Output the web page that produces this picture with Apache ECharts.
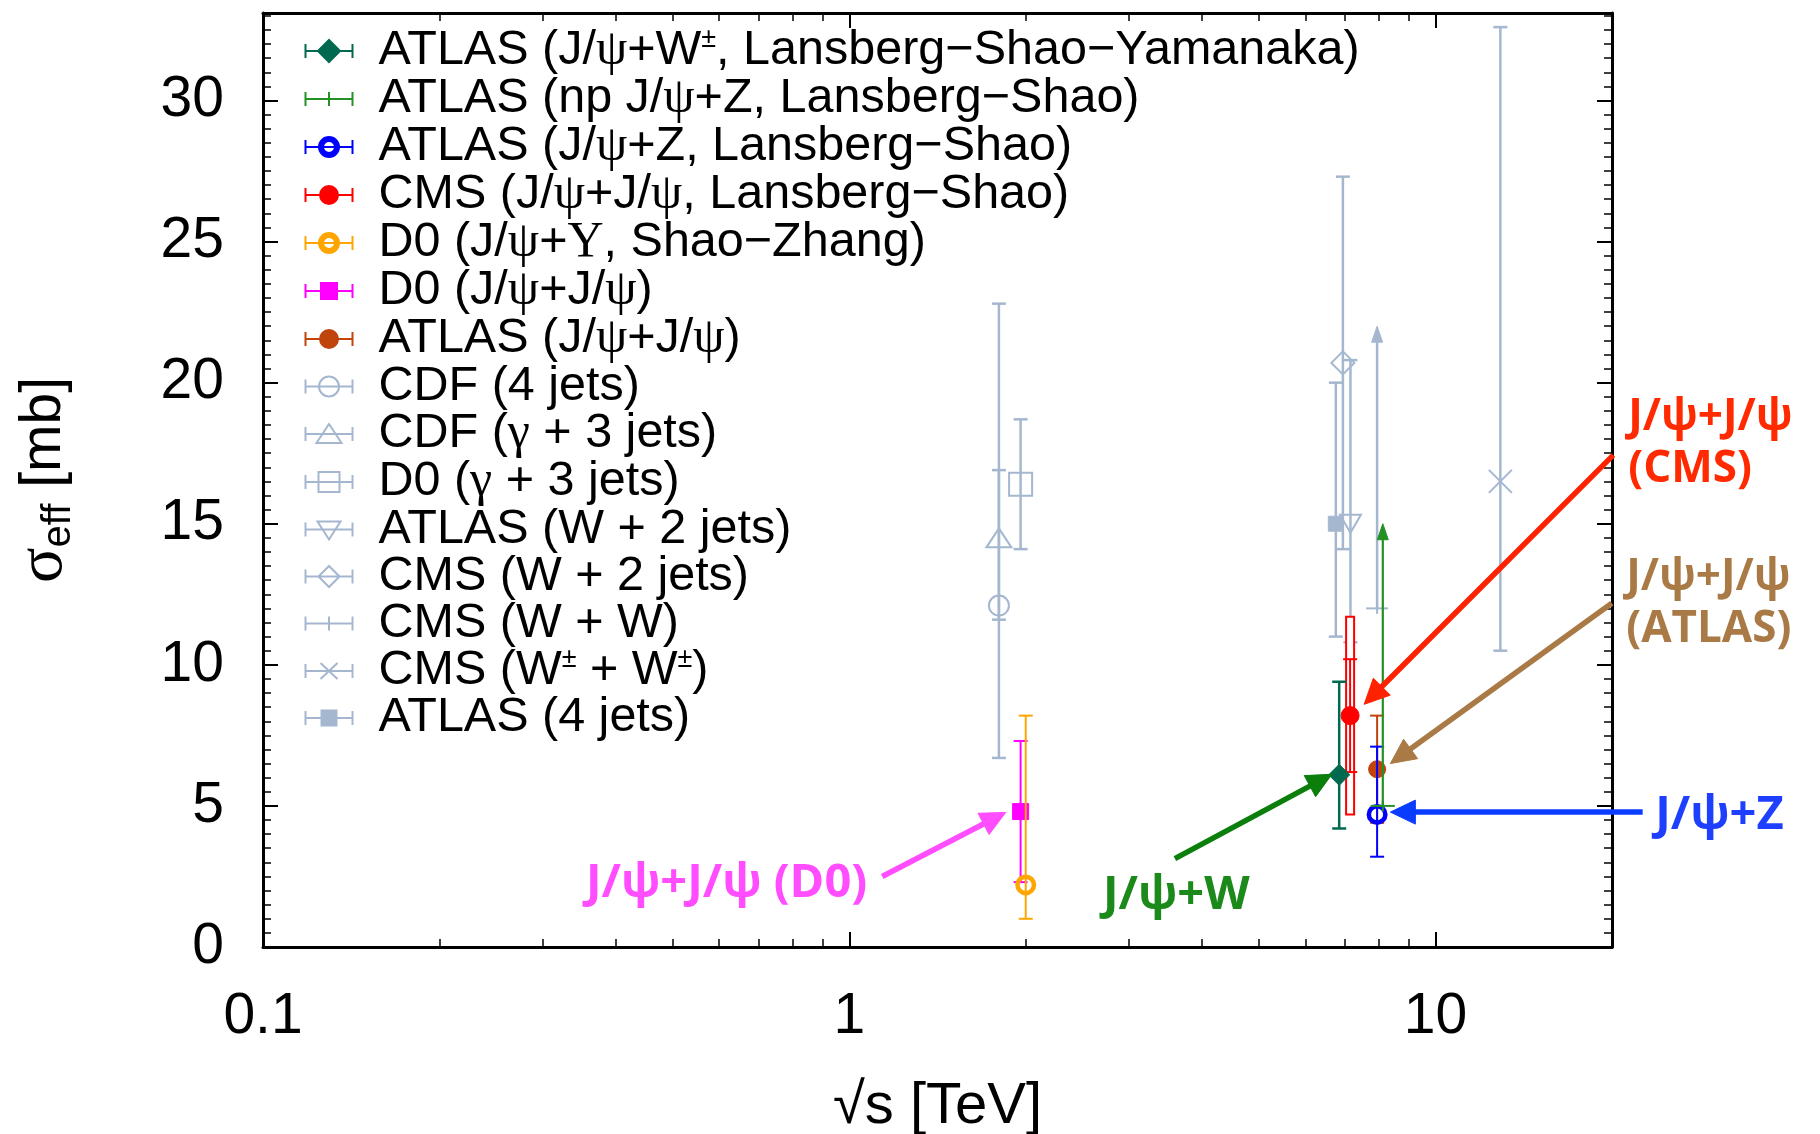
<!DOCTYPE html>
<html>
<head>
<meta charset="utf-8">
<title>σeff versus √s</title>
<script src="https://cdn.jsdelivr.net/npm/echarts@6/dist/echarts.min.js"></script>
<style>
  html, body { margin: 0; padding: 0; background: #ffffff; }
  #chart { width: 1820px; height: 1134px; }
</style>
</head>
<body>
<div id="chart"></div>
<script>
// ---- measurements: sigma_eff [mb] versus collision energy sqrt(s) [TeV] ----
const seriesNames = [
  'ATLAS (J/ψ+W±, Lansberg−Shao−Yamanaka)',
  'ATLAS (np J/ψ+Z, Lansberg−Shao)',
  'ATLAS (J/ψ+Z, Lansberg−Shao)',
  'CMS (J/ψ+J/ψ, Lansberg−Shao)',
  'D0 (J/ψ+Υ, Shao−Zhang)',
  'D0 (J/ψ+J/ψ)',
  'ATLAS (J/ψ+J/ψ)',
  'CDF (4 jets)',
  'CDF (γ + 3 jets)',
  'D0 (γ + 3 jets)',
  'ATLAS (W + 2 jets)',
  'CMS (W + 2 jets)',
  'CMS (W + W)',
  'CMS (W± + W±)',
  'ATLAS (4 jets)'
];
// sqrt(s) in TeV (points at a common energy are spread slightly apart)
const sqrtS     = [6.85, 8.13, 7.95, 7.15, 2.0, 1.96, 7.95, 1.8, 1.8, 1.96, 7.16, 6.95, 7.95, 12.9, 6.76];
const sigmaEff  = [6.1, 5.0, 4.7, 8.2, 2.2, 4.8, 6.3, 12.1, 14.5, 16.4, 15.0, 20.7, 12.0, 16.5, 15.0];
const errLow    = [4.2, null, 3.2, 6.2, 1.0, 2.3, 4.4, 6.7, 11.6, 14.1, 10.8, 14.1, null, 10.5, 11.0];
const errHigh   = [9.4, null, 7.1, 10.2, 8.2, 7.3, 8.2, 22.8, 16.9, 18.7, 20.8, 27.3, null, 32.6, 20.0];
// total (stat+syst) band, drawn as an open box
const bandLow   = [null, null, null, 4.7, null, null, null, null, null, null, null, null, null, null, null];
const bandHigh  = [null, null, null, 11.7, null, null, null, null, null, null, null, null, null, null, null];
// lower limits: arrow drawn from the value up to this level
const limitArrowTop = [null, 15.0, null, null, null, null, null, null, null, null, null, null, 22.0, null, null];

// axis ticks and labels
const xRange = [0.1, 20];
const yRange = [0, 33.1];
const xMajorTicks = [0.1, 1, 10];
const xMinorTicks = [0.2, 0.3, 0.4, 0.5, 0.6, 0.7, 0.8, 0.9, 2, 3, 4, 5, 6, 7, 8, 9];
const yMajorTicks = [0, 5, 10, 15, 20, 25, 30];
const yMinorTicks = [0.5, 1, 1.5, 2, 2.5, 3, 3.5, 4, 4.5,
  5.5, 6, 6.5, 7, 7.5, 8, 8.5, 9, 9.5,
  10.5, 11, 11.5, 12, 12.5, 13, 13.5, 14, 14.5,
  15.5, 16, 16.5, 17, 17.5, 18, 18.5, 19, 19.5,
  20.5, 21, 21.5, 22, 22.5, 23, 23.5, 24, 24.5,
  25.5, 26, 26.5, 27, 27.5, 28, 28.5, 29, 29.5,
  30.5, 31, 31.5, 32, 32.5, 33];

// callout labels with arrows pointing at the quarkonium points
const noteTexts = ['J/ψ+J/ψ (D0)', 'J/ψ+W', 'J/ψ+Z', 'J/ψ+J/ψ\n(ATLAS)', 'J/ψ+J/ψ\n(CMS)'];
const noteAt    = [[1.073, 2.25], [3.613, 1.81], [23.7, 4.65], [21.15, 12.16], [21.32, 17.84]];
const noteFrom  = [[1.138, 2.50], [3.593, 3.13], [22.56, 4.78], [19.98, 12.18], [20.10, 17.43]];
const noteTo    = [[1.849, 4.77], [6.658, 6.12], [8.375, 4.78], [8.375, 6.50], [7.556, 8.60]];

// ---- styling ----
const GRAY = '#a5b7cf';
const seriesColors = ['#00694f', '#249124', '#0000ff', '#ff0000', '#ffa500', '#ff00ff', '#c0440c',
  GRAY, GRAY, GRAY, GRAY, GRAY, GRAY, GRAY, GRAY];
const markerKinds = ['diamond', 'plus', 'ring', 'circle', 'ring', 'square', 'circle',
  'openCircle', 'openTriangle', 'openSquare', 'openTriangleDown', 'openDiamond', 'plus', 'cross', 'square'];
const markerSizes = [[21, 21], [24, 22], [21, 21], [18, 18], [21, 21], [16, 16], [17, 17],
  [22, 22], [25, 19], [23, 23], [21, 18], [23, 23], [22, 22], [23, 23], [15, 15]];
const barWidths = [2.5, 2.2, 2, 2, 2, 2, 2, 2.5, 2.5, 2.5, 2.5, 2.5, 2.5, 2.5, 2.5];
const noteColors = ['#ff4dff', '#1b8a1b', '#1f3fff', '#a97a45', '#ff2a00'];
const noteArrowColors = ['#ff4dff', '#0b7e0b', '#0a3cff', '#a97a45', '#ff2200'];
const noteAlign = ['right', 'center', 'left', 'left', 'left'];
const noteFontSize = [47, 47, 47, 44, 44];

const CAP = 7;

function markerShape(kind, cx, cy, size, color, lw) {
  const w = size[0] / 2, h = size[1] / 2;
  const solid = { fill: color, stroke: color, lineWidth: 1 };
  const open = { fill: 'none', stroke: color, lineWidth: lw };
  switch (kind) {
    case 'diamond':
      return { type: 'polygon', shape: { points: [[cx, cy - h], [cx + w, cy], [cx, cy + h], [cx - w, cy]] }, style: solid };
    case 'openDiamond':
      return { type: 'polygon', shape: { points: [[cx, cy - h], [cx + w, cy], [cx, cy + h], [cx - w, cy]] }, style: open };
    case 'circle':
      return { type: 'circle', shape: { cx: cx, cy: cy, r: w }, style: solid };
    case 'ring':
      return { type: 'circle', shape: { cx: cx, cy: cy, r: w - 2.25 }, style: { fill: 'none', stroke: color, lineWidth: 4.5 } };
    case 'openCircle':
      return { type: 'circle', shape: { cx: cx, cy: cy, r: w - lw / 2 }, style: open };
    case 'square':
      return { type: 'rect', shape: { x: cx - w, y: cy - h, width: 2 * w, height: 2 * h }, style: solid };
    case 'openSquare':
      return { type: 'rect', shape: { x: cx - w, y: cy - h, width: 2 * w, height: 2 * h }, style: open };
    case 'openTriangle':
      return { type: 'polygon', shape: { points: [[cx, cy - h], [cx + w, cy + h], [cx - w, cy + h]] }, style: open };
    case 'openTriangleDown':
      return { type: 'polygon', shape: { points: [[cx - w, cy - h], [cx + w, cy - h], [cx, cy + h]] }, style: open };
    case 'cross':
      return { type: 'group', children: [
        { type: 'line', shape: { x1: cx - w, y1: cy - h, x2: cx + w, y2: cy + h }, style: open },
        { type: 'line', shape: { x1: cx + w, y1: cy - h, x2: cx - w, y2: cy + h }, style: open }
      ] };
    case 'plus':
      return { type: 'group', children: [
        { type: 'line', shape: { x1: cx - w, y1: cy, x2: cx + w, y2: cy }, style: open },
        { type: 'line', shape: { x1: cx, y1: cy - h / 2, x2: cx, y2: cy + h / 2 }, style: open }
      ] };
  }
  return null;
}

function arrowShapes(p0, p1, color, lw, headLen, headW) {
  const dx = p1[0] - p0[0], dy = p1[1] - p0[1];
  const len = Math.hypot(dx, dy);
  const ux = dx / len, uy = dy / len;
  const bx = p1[0] - ux * headLen, by = p1[1] - uy * headLen;
  const nx = -uy, ny = ux;
  return [
    { type: 'line', shape: { x1: p0[0], y1: p0[1], x2: bx + ux * 2, y2: by + uy * 2 }, style: { stroke: color, lineWidth: lw } },
    { type: 'polygon', shape: { points: [[p1[0], p1[1]], [bx + nx * headW / 2, by + ny * headW / 2], [bx - nx * headW / 2, by - ny * headW / 2]] },
      style: { fill: color, stroke: color, lineWidth: 1 } }
  ];
}

function measurementRenderer(i) {
  return function (params, api) {
    const x = api.value(0), y = api.value(1);
    const p = api.coord([x, y]);
    const color = seriesColors[i];
    const lw = barWidths[i];
    const line = { stroke: color, lineWidth: lw };
    const children = [];
    if (bandLow[i] != null) {
      const bl = api.coord([x, bandLow[i]]), bh = api.coord([x, bandHigh[i]]);
      children.push({ type: 'rect', shape: { x: p[0] - 4, y: bh[1], width: 8, height: bl[1] - bh[1] },
        style: { fill: '#ffffff', stroke: color, lineWidth: 2 } });
    }
    if (errLow[i] != null) {
      const lo = api.coord([x, errLow[i]]), hi = api.coord([x, errHigh[i]]);
      children.push({ type: 'line', shape: { x1: p[0], y1: lo[1], x2: p[0], y2: hi[1] }, style: line });
      children.push({ type: 'line', shape: { x1: p[0] - CAP, y1: lo[1], x2: p[0] + CAP, y2: lo[1] }, style: line });
      children.push({ type: 'line', shape: { x1: p[0] - CAP, y1: hi[1], x2: p[0] + CAP, y2: hi[1] }, style: line });
    }
    if (limitArrowTop[i] != null) {
      const top = api.coord([x, limitArrowTop[i]]);
      children.push.apply(children, arrowShapes(p, top, color, lw, 16, 11));
    }
    children.push(markerShape(markerKinds[i], p[0], p[1], markerSizes[i], color, 2));
    return { type: 'group', children: children };
  };
}

function noteRenderer(params, api) {
  const k = params.dataIndex;
  const from = api.coord(noteFrom[k]);
  const to = api.coord(noteTo[k]);
  const at = api.coord(noteAt[k]);
  const children = arrowShapes(from, to, noteArrowColors[k], 5.5, 25, 24);
  children.push({
    type: 'text',
    x: at[0], y: at[1],
    style: {
      text: noteTexts[k],
      fill: noteColors[k],
      fontFamily: 'Open Sans',
      fontWeight: 'bold',
      fontSize: noteFontSize[k],
      lineHeight: 52,
      align: noteAlign[k],
      verticalAlign: 'middle'
    }
  });
  return { type: 'group', children: children };
}

// legend icon: error bar with caps, marker in the middle, padded to 68 px
const legendMarkerPaths = {
  diamond: 'M23.5 0L34.5 11L23.5 22L12.5 11Z',
  plus: 'M23.5 4L23.5 18',
  ring: 'M33.5 11A10 10 0 1 1 13.5 11A10 10 0 1 1 33.5 11ZM29.5 11A6 6 0 1 0 17.5 11A6 6 0 1 0 29.5 11Z',
  circle: 'M32.5 11A9 9 0 1 1 14.5 11A9 9 0 1 1 32.5 11Z',
  square: 'M15.5 3L31.5 3L31.5 19L15.5 19Z',
  openCircle: 'M33.5 11A10 10 0 1 1 13.5 11A10 10 0 1 1 33.5 11Z',
  openTriangle: 'M23.5 1L36 20L11 20Z',
  openSquare: 'M13 1L34 1L34 21L13 21Z',
  openTriangleDown: 'M12 3L35 3L23.5 21Z',
  openDiamond: 'M23.5 0.5L34 11L23.5 21.5L13 11Z',
  cross: 'M15 3L32 19M32 3L15 19'
};
const smallSquare = 'M16 3.5L31 3.5L31 18.5L16 18.5Z';
function legendIcon(i) {
  const base = 'M0 0M68 22M0 4L0 18M47 4L47 18M0 11L47 11';
  const kind = markerKinds[i];
  const m = (kind === 'square' && seriesColors[i] === GRAY) ? smallSquare : legendMarkerPaths[kind];
  return 'path://' + base + m;
}
function legendStyle(i) {
  const c = seriesColors[i];
  const kind = markerKinds[i];
  const filled = kind === 'diamond' || kind === 'circle' || kind === 'square' || kind === 'ring';
  return { color: filled ? c : 'none', borderColor: c, borderWidth: 2 };
}
function richName(name) {
  return name.replace(/([ψγΥ])/g, '{g|$1}').replace(/±/g, '{sup|±}');
}

const FONT = 'Liberation Sans';

function xAxisDef(position, ticks, len, width, withLine, withLabels, withName) {
  const axis = {
    type: 'log', logBase: 10, min: xRange[0], max: xRange[1], position: position, gridIndex: 0,
    axisLine: { show: withLine, onZero: false, lineStyle: { color: '#000', width: 3 } },
    axisTick: { show: true, inside: true, length: len, customValues: ticks, lineStyle: { color: '#000', width: width } },
    axisLabel: withLabels ? {
      show: true, customValues: xMajorTicks, margin: 42, color: '#000', fontFamily: FONT, fontSize: 57,
      showMinLabel: true, showMaxLabel: true,
      formatter: function (v) { return v < 1 ? v.toFixed(1) : String(Math.round(v)); }
    } : { show: false },
    splitLine: { show: false }, minorTick: { show: false }, minorSplitLine: { show: false }
  };
  if (withName) {
    axis.name = '√s [TeV]';
    axis.nameLocation = 'middle';
    axis.nameGap = 131;
    axis.nameMoveOverlap = false;
    axis.nameTextStyle = { color: '#000', fontFamily: FONT, fontSize: 58 };
  }
  return axis;
}
function yAxisDef(position, ticks, len, width, withLine, withLabels, withName) {
  const axis = {
    type: 'value', min: yRange[0], max: yRange[1], position: position, gridIndex: 0,
    axisLine: { show: withLine, onZero: false, lineStyle: { color: '#000', width: 3 } },
    axisTick: { show: true, inside: true, length: len, customValues: ticks, lineStyle: { color: '#000', width: width } },
    axisLabel: withLabels ? {
      show: true, customValues: yMajorTicks, margin: 39, color: '#000', fontFamily: FONT, fontSize: 57
    } : { show: false },
    splitLine: { show: false }, minorTick: { show: false }, minorSplitLine: { show: false }
  };
  if (withName) {
    axis.name = '{s|σ}{sub|eff} [mb]';
    axis.nameLocation = 'middle';
    axis.nameGap = 184;
    axis.nameMoveOverlap = false;
    axis.nameTextStyle = {
      color: '#000', fontFamily: FONT, fontSize: 57, lineHeight: 70,
      rich: {
        s: { fontFamily: 'Liberation Serif', fontSize: 66, lineHeight: 70 },
        sub: { fontFamily: FONT, fontSize: 40, lineHeight: 44, verticalAlign: 'bottom' }
      }
    };
  }
  return axis;
}

const series = [];
// reference processes first, quarkonium results drawn on top
const drawOrder = [7, 8, 9, 10, 11, 12, 13, 14, 6, 5, 4, 3, 2, 1, 0];
drawOrder.forEach(function (i) {
  series.push({
    name: seriesNames[i],
    type: 'custom',
    coordinateSystem: 'cartesian2d',
    xAxisIndex: 0, yAxisIndex: 0,
    silent: true,
    itemStyle: { color: seriesColors[i] },
    encode: { x: 0, y: 1 },
    data: [[sqrtS[i], sigmaEff[i]]],
    renderItem: measurementRenderer(i)
  });
});
series.push({
  type: 'custom',
  coordinateSystem: 'cartesian2d',
  xAxisIndex: 0, yAxisIndex: 0,
  silent: true,
  clip: false,
  z: 5,
  encode: { x: 0, y: 1 },
  data: noteAt.map(function (p) { return [p[0], p[1]]; }),
  renderItem: noteRenderer
});

const chart = echarts.init(document.getElementById('chart'), null, { renderer: 'canvas' });
chart.setOption({
  animation: false,
  backgroundColor: '#ffffff',
  textStyle: { fontFamily: FONT },
  grid: { left: 263, top: 13, width: 1349, height: 934, containLabel: false, outerBoundsMode: 'none' },
  xAxis: [
    xAxisDef('bottom', xMajorTicks, 15, 2, true, true, true),
    xAxisDef('bottom', xMinorTicks, 8, 1.5, false, false, false),
    xAxisDef('top', xMajorTicks, 15, 2, true, false, false),
    xAxisDef('top', xMinorTicks, 8, 1.5, false, false, false)
  ],
  yAxis: [
    yAxisDef('left', yMajorTicks, 15, 2, true, true, true),
    yAxisDef('left', yMinorTicks, 8, 1.5, false, false, false),
    yAxisDef('right', yMajorTicks, 15, 2, true, false, false),
    yAxisDef('right', yMinorTicks, 8, 1.5, false, false, false)
  ],
  legend: {
    orient: 'vertical',
    left: 303, top: 26,
    padding: 0,
    itemGap: -2,
    itemWidth: 68, itemHeight: 22,
    selectedMode: false,
    textStyle: {
      color: '#000', fontFamily: FONT, fontSize: 48.5,
      rich: {
        g: { fontFamily: 'Liberation Serif', fontSize: 50 },
        sup: { fontFamily: FONT, fontSize: 27, padding: [0, 0, 23, 0] }
      }
    },
    formatter: richName,
    data: seriesNames.map(function (n, i) {
      return { name: n, icon: legendIcon(i), itemStyle: legendStyle(i) };
    })
  },
  series: series
});
</script>
</body>
</html>
